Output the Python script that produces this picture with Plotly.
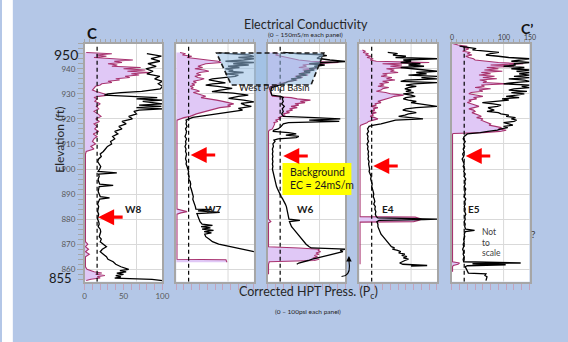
import plotly.graph_objects as go

W, H = 568, 342
PANEL_LEFT = [84, 177, 270, 363, 457]
PANEL_W = 79
Y_TOP, Y_BOT = 43.7, 281.8
ELEV_RANGE = [855, 950]
EC_RANGE = [0, 150]
HPT_RANGE = [0, 100]
BG_EC = 24

WELLS = ["W8", "W7", "W6", "E4", "E5"]
ELEV_TICKS = [860, 870, 880, 890, 900, 910, 920, 930, 940]
EC_LABELS = [0, 100, 150]
HPT_LABELS = [0, 50, 100]

# ---------------- data: (elevation ft, value) ----------------
w8_ec = [(946,120),(945.5,135),(945,148),(944,128),(943,145),(942,122),(941,138),(940,118),(939,132),(938,120),
         (937,145),(936,135),(935,150),(934,142),(933,150),(932,146),(931,110),(930.5,70),(930,45),(929.5,38),
         (929,90),(928.5,140),(928,100),(927.5,150),(927,112),(926,150),(925.5,105),(925,148),(924.5,100),(924,150),
         (923.5,105),(923,95),(922,100),(921,85),(920,92),(919,72),(918,80),(917,66),(916,72),(915,58),(914,64),
         (913,54),(912,58),(911,50),(910,52),(909,44),(908,40),(907,36),(906,30),(905,32),(904,27),(903,25),
         (902,28),(901,31),(900,29),(899,26),(898.5,62),(898,27),(897,28),(896,26),(895,27),(894,29),(893.5,55),
         (893,28),(892,27),(891,26),(890,28),(889,30),(888.5,48),(888,29),(887,27),(886,25),(885,27),(884,26),
         (883,25),(882,27),(881,26),(880,25),(879,27),(878,28),(877,26),(876,30),(875,31),(874,29),(873,28),
         (872,32),(871,30),(870,36),(869,42),(868,34),(867,30),(866,36),(865,42),(864,45),(863,55),(862,60),
         (861,70),(860,85),(859.5,68),(859,80),(858.5,62),(858,75),(857.5,60),(857,70),(856.5,58),(856,130),(855.5,150)]
w8_hpt = [(946.5,2),(946,35),(945.5,15),(945,28),(944.5,12),(944,40),(943.5,62),(943,38),(942.5,48),(942,30),
          (941.5,42),(941,35),(940.5,72),(940,50),(939.5,78),(939,55),(938.5,84),(938,60),(937.5,70),(937,52),
          (936.5,58),(936,40),(935.5,45),(935,30),(934.5,35),(934,22),(933.5,20),(933,14),(932,12),(931.5,10),
          (931,14),(930,24),(929.5,30),(929,18),(928.5,12),(928,16),(927,13),(926,20),(925,15),(924,18),(923,12),
          (922,17),(921,21),(920,14),(919,19),(918,12),(917,16),(916,13),(915,18),(914,11),(913,16),(912,12),
          (911,10),(910,14),(909,8),(908,12),(907.5,6),(907,2),(906,1),(871,1),(870,4),(869,1),(868,5),(867,1),
          (866,6),(865,1),(861,1),(860,3),(859,12),(858.5,22),(858,14),(857.5,26),(857,16),(856.5,20),(856,8),(855.5,2)]

w7_ec = [(946.3,82),(946,110),(945.5,140),(944.9,150),(944.5,120),(944,150),(943.5,130),(943,95),(942.5,150),
         (942,110),(941.5,140),(941,100),(940.5,122),(940,95),(939.5,110),(939,101),(938.5,130),(938,95),
         (937.5,120),(937,114),(936.5,90),(936,70),(935.6,63),(935,80),(934.4,95),(934,70),(933.5,57),(933,80),
         (932.2,108),(931.5,85),(930.9,69),(930.3,110),(929.5,139),(929,120),(928.2,101),(927.5,130),(926.8,150),
         (926.2,125),(925.5,133),(925,145),(924.2,120),(923.5,128),(922.9,108),(922.2,82),(921.5,57),(920.6,32),
         (919.5,19),(919,20),(918,19),(917,21),(916,18),(915,20),(914,19),(913,17),(912,20),(911,18),(910,19),
         (909,17),(908,19),(907,18),(906,20),(905,19),(904,18),(903,20),(902,19),(901,21),(900,22),(899,24),
         (898,23),(897,25),(896,24),(895,27),(894,28),(893,27),(892,29),(891,30),(890,31),(889,33),(888,32),
         (887,34),(886,36),(885,37),(884,38),(883.8,68),(883.3,42),(882.7,84),(882.2,40),(881,42),(880,44),
         (879,46),(878,50),(877.5,70),(877,48),(876.5,66),(876,50),(875.5,72),(875,54),(874.5,68),(874,55),
         (873,57),(872,64),(871,70),(870,82),(869,104),(868,128),(867.5,140),(867,150)]
w7_hpt = [(946.5,5),(946,12),(945.5,8),(945,20),(944.5,14),(944,25),(943.5,40),(943,54),(942.5,58),(942,38),
          (941.5,32),(941,28),(940.5,34),(940,24),(939.5,36),(939,42),(938.5,30),(938,26),(937.5,32),(937,24),
          (936.5,28),(936,36),(935.5,30),(935,22),(934.5,26),(934,20),(933.5,24),(933,18),(932.5,22),(932,19),
          (931.5,26),(931,30),(930.5,22),(930,28),(929.5,34),(929,38),(928.5,32),(928,44),(927.5,52),(927,60),
          (926.5,68),(926,74),(925.5,66),(925,70),(924.5,56),(924,50),(923.5,42),(923,36),(922.5,32),(922,26),
          (921.5,22),(921,18),(920.5,10),(920,4),(919.5,1),(884,1),(883.5,8),(883,14),(882.5,6),(882,1),
          (864,1),(863.8,64),(863,65),(862.8,65)]

w6_ec = [(946.5,30),(946,60),(945.6,104),(945.2,114),(944.8,100),(944.2,95),(943.5,120),(942.9,150),(942.4,102),
         (942,80),(941.5,110),(941,90),(940.5,95),(940,80),(939.5,90),(939,70),(938.5,82),(938,60),(937.5,75),
         (937,55),(936.5,65),(936,45),(935.5,55),(935,40),(934.5,35),(934,28),(933.5,20),(933,12),(932.5,8),
         (932,7),(931,6),(930,7),(929.5,8),(929,25),(928.5,30),(928,28),(927,30),(926,27),(925,32),(924,28),
         (923,30),(922,27),(921,30),(920.5,90),(920,140),(919.5,80),(919,138),(918.5,40),(918,30),(917,26),
         (916,20),(915.5,12),(915,10),(914.5,40),(914,55),(913.5,35),(913,60),(912.5,55),(912,20),(911.5,12),
         (911,14),(910,10),(909,11),(908,9),(907,10),(906,9),(905,10),(904,9),(903,10),(902,9),(901,10),(900,9),
         (899,10),(898,11),(897,12),(896,13),(895,14),(894,15),(893,17),(892,19),(891,21),(890,23),(889,26),
         (888,29),(887,32),(886,34),(885,36),(884,37),(883,38),(882,39),(881,40),(880,41),(879.5,62),(879,42),
         (878,44),(877,46),(876,50),(875,54),(874,58),(873,62),(872,66),(871,70),(870,74),(869,80),(868.5,84),
         (868,150),(867.5,140),(867,145),(866.5,135),(866,125),(865.5,112),(865,100),(864.5,92),(864,86),
         (863.5,78),(863,68),(862.5,60),(862,56)]
w6_hpt = [(946.5,8),(946,14),(945.5,10),(945,18),(944.5,22),(944,30),(943.5,40),(943,55),(942.5,91),(942,60),
          (941.5,45),(941,50),(940.5,40),(940,62),(939.5,45),(939,55),(938.5,48),(938,40),(937.5,52),(937,35),
          (936.5,45),(936,32),(935.5,38),(935,28),(934.5,22),(934,15),(933.5,10),(933,6),(932.5,4),(932,3),
          (931,3),(930,4),(929,6),(928.5,30),(928,38),(927.5,55),(927,42),(926.5,48),(926,35),(925.5,40),
          (925,30),(924.5,38),(924,28),(923.5,32),(923,24),(922.5,28),(922,20),(921.5,22),(921,18),(920.5,14),
          (920,16),(919.5,10),(919,13),(918.5,8),(918,9),(917,8),(916,6),(915.5,2),(915,1),(880,1),(879,4),
          (878.5,1),(869,1),(868.5,40),(868,66),(867.5,65),(867,68),(866.5,62),(866,66),(865.5,60),(865,64),
          (864.5,58),(864,66),(863.5,60),(863,2),(862,1),(858,1)]

e4_ec = [(946.5,55),(946,74),(945.5,65),(945,90),(944.5,70),(944,150),(943.5,85),(943,100),(942.5,80),(942,118),
         (941.5,95),(941,125),(940.5,80),(940,100),(939.5,120),(939,150),(938.5,110),(938,130),(937.5,95),
         (937,150),(936.5,120),(936,150),(935.5,90),(935,80),(934.5,150),(934,105),(933.5,90),(933,110),
         (932.5,95),(932,88),(931.5,100),(931,90),(930.5,105),(930,85),(929.5,100),(929,108),(928.5,90),(928,85),
         (927.5,95),(927,110),(926.5,100),(926,120),(925.5,130),(925,150),(924.5,110),(924,90),(923.5,84),
         (923,100),(922.5,110),(922,95),(921.5,88),(921,76),(920.5,100),(920,123),(919.5,70),(919,61),(918.5,50),
         (918,42),(917.5,28),(917,19),(916,16),(915,18),(914,15),(913,17),(912,16),(911,18),(910,15),(909,17),
         (908,16),(907,18),(906,17),(905,18),(904,17),(903,19),(902,18),(901,19),(900,20),(899,19),(898,21),
         (897,23),(896,22),(895,24),(894,25),(893,24),(892,26),(891,27),(890,28),(889,27),(888,29),(887,30),
         (886,28),(885,31),(884,30),(883,32),(882,31),(881,33),(880.5,36),(880,150),(879.8,125),(879.5,38),
         (879,34),(878,36),(877,36),(876,38),(875,40),(874,42),(873,46),(872,50),(871,54),(870,58),(869,62),
         (868.5,68),(868,64),(867.5,74),(867,80),(866.5,76),(866,88),(865.5,82),(865,92),(864.5,85),(864,95),
         (863.5,88),(863,82),(862.5,78),(862,84),(861.5,131),(861.3,100)]
e4_hpt = [(947.5,4),(947,8),(946.5,5),(946,12),(945.5,8),(945,15),(944.5,10),(944,18),(943.5,14),(943,22),
          (942.5,90),(942,30),(941.5,55),(941,40),(940.5,63),(940,35),(939.5,45),(939,40),(938.5,50),(938,30),
          (937.5,36),(937,28),(936.5,42),(936,35),(935.5,46),(935,30),(934.5,38),(934,26),(933.5,32),(933,24),
          (932.5,38),(932,30),(931.5,28),(931,22),(930.5,34),(930,40),(929.5,57),(929,45),(928.5,41),(928,36),
          (927.5,30),(927,24),(926.5,28),(926,20),(925.5,22),(925,15),(924.5,24),(924,18),(923.5,20),(923,14),
          (922.5,22),(922,16),(921.5,18),(921,14),(920.5,20),(920,24),(919.5,18),(919,12),(918.5,10),(918,6),
          (917.5,2),(917,1),(881,1),(880.8,72),(880,80),(879.5,76),(879,70),(878.8,1),(862,1)]

e5_ec = [(949,15),(948.5,30),(948,47),(947.5,40),(947,60),(946.5,91),(946,75),(945.5,66),(945,90),(944.5,110),
         (944,150),(943.5,130),(943,115),(942.5,150),(942,120),(941.5,123),(941,100),(940.5,140),(940,115),
         (939.5,150),(939,125),(938.5,150),(938,130),(937.5,150),(937,120),(936.5,150),(936,110),(935.5,140),
         (935,150),(934.5,120),(934,100),(933.5,150),(933,135),(932.5,150),(932,120),(931.5,110),(931,145),
         (930.5,115),(930,140),(929.5,125),(929,105),(928.5,130),(928,97),(927.5,110),(927,90),(926.5,59),
         (926,80),(925.5,95),(925,88),(924.5,70),(924,75),(923.5,82),(923,68),(922.5,90),(922,95),(921.5,110),
         (921,105),(920.5,123),(920,115),(919.5,125),(919,120),(918.5,100),(918,110),(917.5,118),(917,100),
         (916.5,108),(916,95),(915.5,88),(915,70),(914.5,55),(914,30),(913.5,26),(913,24),(912,22),(911,26),
         (910,23),(909,25),(908,22),(907,24),(906,21),(905,23),(904,20),(903,22),(902,24),(901,22),(900,25),
         (899,23),(898,26),(897,24),(896,27),(895,25),(894,26),(893,24),(892,27),(891,25),(890,26),(889,24),
         (888,27),(887,25),(886,26),(885,24),(884,26),(883,25),(882,27),(881,25),(880,26),(879,24),(878,26),
         (877,25),(876,27),(875.5,44),(875,26),(874,24),(873,25),(872,23),(871,24),(870,22),(869,23),(868,21),
         (867,23),(866,22),(865,24),(864,22),(863,23),(862.5,133),(862.2,40),(861.8,104),(861.4,30),(861,26),
         (860,28),(859,30),(858.5,32),(858.2,66),(857.5,64),(857,68),(856,66),(855.5,66)]
e5_hpt = [(950,2),(949.5,8),(949,20),(948.5,15),(948,22),(947.5,18),(947,14),(946.5,24),(946,20),(945.5,26),
          (945,18),(944.5,22),(944,28),(943.5,30),(943,45),(942.5,60),(942,92),(941.5,50),(941,80),(940.5,45),
          (940,60),(939.5,42),(939,65),(938.5,38),(938,50),(937.5,35),(937,55),(936.5,40),(936,58),(935.5,36),
          (935,45),(934.5,40),(934,73),(933.5,38),(933,42),(932.5,30),(932,50),(931.5,35),(931,40),(930.5,25),
          (930,22),(929.5,30),(929,40),(928.5,28),(928,32),(927.5,22),(927,25),(926.5,20),(926,24),(925.5,30),
          (925,35),(924.5,26),(924,22),(923.5,28),(923,30),(922.5,26),(922,32),(921.5,35),(921,38),(920.5,32),
          (920,40),(919.5,38),(919,42),(918.5,45),(918,50),(917.5,48),(917,55),(916.5,64),(916,60),(915.5,70),
          (915,62),(914.5,40),(914.2,2),(914,1),(863,1),(862.5,10),(862,8),(861.5,2),(861,1),(859,1)]

EC_DATA = [w8_ec, w7_ec, w6_ec, e4_ec, e5_ec]
HPT_DATA = [w8_hpt, w7_hpt, w6_hpt, e4_hpt, e5_hpt]
# red arrows point at the background EC reading (EC mS/m, elevation ft)
ARROW_TIPS = [(26, 880.8), (28, 905.6), (30, 905.2), (27, 901.2), (27, 905.2)]

# ---------------- helpers ----------------
FONT = "Lato"
BG = "#b4c7e7"
def px(x): return x / W
def py(y): return 1 - y / H
def xname(k): return "x" if k == 1 else f"x{k}"
def yname(k): return "y" if k == 1 else f"y{k}"

fig = go.Figure()
layout = dict(width=W, height=H, autosize=False, margin=dict(l=0, r=0, t=0, b=0),
              paper_bgcolor=BG, plot_bgcolor="white", showlegend=False, hovermode=False,
              font=dict(family=FONT, color="#262626"))
shapes, annots = [], []

shapes.append(dict(type="rect", xref="paper", yref="paper", x0=0, x1=px(11), y0=0, y1=1,
                   fillcolor="white", line=dict(width=0), layer="below"))

for i, well in enumerate(WELLS):
    hx, ex, yk = 2 * i + 1, 2 * i + 2, i + 1
    dom = [px(PANEL_LEFT[i]), px(PANEL_LEFT[i] + PANEL_W)]
    hz, hv = zip(*HPT_DATA[i])
    ez, ev = zip(*EC_DATA[i])
    fig.add_trace(go.Scatter(x=list(hv), y=list(hz), xaxis=xname(hx), yaxis=yname(yk), mode="lines",
                             fill="tozerox", fillcolor="rgb(224,200,246)",
                             line=dict(color="#a8336f", width=1.1)))
    fig.add_trace(go.Scatter(x=list(ev), y=list(ez), xaxis=xname(ex), yaxis=yname(yk), mode="lines",
                             line=dict(color="black", width=1.3)))

    hpt_tick = list(range(0, 101, 10))
    layout["xaxis" if hx == 1 else f"xaxis{hx}"] = dict(
        domain=dom, range=HPT_RANGE, anchor=yname(yk), side="bottom", showgrid=False, zeroline=False,
        showline=True, linecolor="#a6a6a6", linewidth=1.5, mirror=True,
        ticks="outside", ticklen=6, tickcolor="#c3a3bd", tickwidth=1,
        tickmode="array", tickvals=hpt_tick,
        ticktext=[str(v) if (i == 0 and v in HPT_LABELS) else "" for v in hpt_tick],
        tickfont=dict(size=8, color="#595959"))
    ec_tick = list(range(0, 151, 10))
    layout[f"xaxis{ex}"] = dict(
        overlaying=xname(hx), range=EC_RANGE, anchor=yname(yk), side="top", showgrid=False, zeroline=False,
        showline=False, ticks="outside", ticklen=4, tickcolor="#a6a6a6", tickwidth=1,
        tickmode="array", tickvals=ec_tick, showticklabels=False)
    ya = dict(domain=[py(Y_BOT), py(Y_TOP)], range=ELEV_RANGE, anchor=xname(hx), zeroline=False,
              showgrid=True, gridcolor="#d9d9d9", gridwidth=1,
              showline=True, linecolor="#a6a6a6", linewidth=1.5, mirror=True,
              tickmode="array", tickvals=ELEV_TICKS)
    if i == 0:
        ya.update(ticks="outside", ticklen=6, tickcolor="#a6a6a6", ticktext=[str(v) for v in ELEV_TICKS],
                  tickfont=dict(size=8, color="#595959"),
                  minor=dict(tickmode="linear", tick0=950, dtick=2, ticks="outside", ticklen=5,
                             tickcolor="#a6a6a6", showgrid=False))
    else:
        ya.update(ticks="", showticklabels=False)
    layout["yaxis" if yk == 1 else f"yaxis{yk}"] = ya

    # EC = 100 grid line and background EC dashed line
    shapes.append(dict(type="line", xref=xname(ex), yref=yname(yk), x0=100, x1=100,
                       y0=ELEV_RANGE[0], y1=ELEV_RANGE[1], line=dict(color="#d9d9d9", width=1), layer="below"))
    shapes.append(dict(type="line", xref=xname(ex), yref=yname(yk), x0=BG_EC, x1=BG_EC,
                       y0=ELEV_RANGE[0], y1=ELEV_RANGE[1], line=dict(color="black", width=1.2, dash="4px,3px")))
    # well label
    annots.append(dict(x=px([123, 215, 308, 400, 488][i]), y=py(209), xref="paper", yref="paper",
                       text=f"<b>{well}</b>", showarrow=False, font=dict(size=10, color="#1a1a1a")))
    # red arrow
    tx, tz = ARROW_TIPS[i]
    annots.append(dict(x=tx, y=tz, xref=xname(ex), yref=yname(yk), text="", showarrow=True,
                       ax=26, ay=0, arrowhead=2, arrowsize=1.0, arrowwidth=3.2, arrowcolor="#ff0000"))

# EC scale labels above the last panel
for v in EC_LABELS:
    annots.append(dict(x=v, y=py(36.5), xref="x10", yref="paper", text=str(v), yanchor="middle",
                       font=dict(size=7, color="#404040")))

# West Pond Basin trapezoid
pts = [(218, 53), (327, 53), (314, 85), (233, 85)]
path = "M " + " L ".join(f"{px(a):.5f},{py(b):.5f}" for a, b in pts) + " Z"
shapes.append(dict(type="path", xref="paper", yref="paper", path=path,
                   fillcolor="rgba(150,190,228,0.55)", line=dict(color="#1a1a1a", width=1.6, dash="5px,3px")))
annots.append(dict(x=px(277), y=py(80), xref="paper", yref="paper", text="West Pond Basin",
                   showarrow=False, font=dict(size=9.5, color="#1a1a1a")))

# yellow note
shapes.append(dict(type="rect", xref="paper", yref="paper", x0=px(285), x1=px(355), y0=py(195), y1=py(163),
                   fillcolor="#ffff00", line=dict(width=0)))
annots.append(dict(x=px(291), y=py(172), xref="paper", yref="paper", text="Background", xanchor="left",
                   showarrow=False, font=dict(size=10.5, color="#1a1a1a")))
annots.append(dict(x=px(291), y=py(185), xref="paper", yref="paper", text="EC = 24mS/m", xanchor="left",
                   showarrow=False, font=dict(size=10.5, color="#1a1a1a")))

# small curved arrow near W6 bottom
cpath = (f"M {px(345):.5f},{py(276.5):.5f} Q {px(353.5):.5f},{py(276):.5f} {px(353):.5f},{py(266):.5f} "
         f"L {px(352.5):.5f},{py(260):.5f}")
shapes.append(dict(type="path", xref="paper", yref="paper", path=cpath, line=dict(color="black", width=1.1)))
annots.append(dict(x=px(352.5), y=py(256), xref="paper", yref="paper", text="", showarrow=True,
                   ax=0, ay=6, arrowhead=2, arrowsize=1, arrowwidth=1.1, arrowcolor="black"))

# titles and labels
annots += [
    dict(x=px(84), y=py(22), text="<b>C</b>", font=dict(size=15, color="#111")),
    dict(x=px(542), y=py(18), text="<b>C’</b>", font=dict(size=14, color="#111")),
    dict(x=px(309), y=py(15), text="Electrical Conductivity", font=dict(size=12.5, color="#262626")),
    dict(x=px(308), y=py(28.5), text="(0 – 150mS/m each panel)", font=dict(size=6.5, color="#262626")),
    dict(x=px(311), y=py(303), text="Corrected HPT Press. (P<sub>c</sub>)", font=dict(size=12.5, color="#262626")),
    dict(x=px(311), y=py(316.5), text="(0 – 100psi each panel)", font=dict(size=6.5, color="#262626")),
    dict(x=px(48), y=py(140), text="Elevation (ft)", textangle=-90, font=dict(size=12, color="#262626")),
    dict(x=px(79), y=py(43.5), text="950", xanchor="right", font=dict(size=14, color="#1a1a1a")),
    dict(x=px(73), y=py(287.5), text="855", xanchor="right", font=dict(size=13, color="#1a1a1a")),
    dict(x=px(486), y=py(239), text="Not", xanchor="left", font=dict(size=8.5, color="#404040")),
    dict(x=px(486), y=py(249.5), text="to", xanchor="left", font=dict(size=8.5, color="#404040")),
    dict(x=px(486), y=py(260), text="scale", xanchor="left", font=dict(size=8.5, color="#404040")),
    dict(x=px(545), y=py(242), text="?", font=dict(size=10, color="#404040")),
]
for a in annots:
    a.setdefault("xref", "paper")
    a.setdefault("yref", "paper")
    a.setdefault("showarrow", False)

layout["shapes"] = shapes
layout["annotations"] = annots
fig.update_layout(**layout)
fig.write_html("out.html", config={"displayModeBar": False},
               post_script="document.body.style.margin='0';document.body.style.padding='0';"
                           "document.body.style.overflow='hidden';")
